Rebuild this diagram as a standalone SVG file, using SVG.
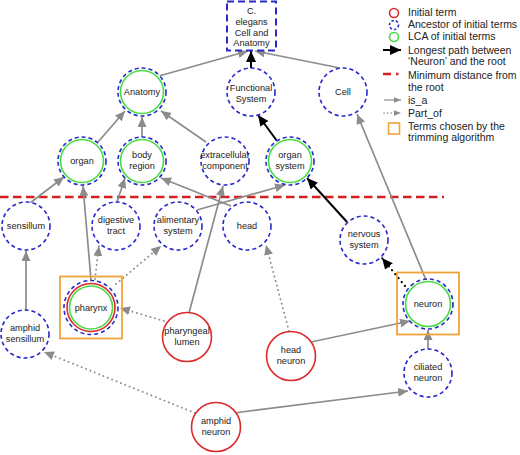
<svg xmlns="http://www.w3.org/2000/svg" width="520" height="455" viewBox="0 0 520 455">
<defs>
<marker id="ag" markerUnits="userSpaceOnUse" markerWidth="11" markerHeight="9" refX="10" refY="4.5" orient="auto"><path d="M0,0 L10,4.5 L0,9 z" fill="#8c8c8c"/></marker>
<marker id="ab" markerUnits="userSpaceOnUse" markerWidth="12" markerHeight="10" refX="11" refY="5" orient="auto"><path d="M0,0 L11,5 L0,10 z" fill="#000"/></marker>
<marker id="agl" markerUnits="userSpaceOnUse" markerWidth="8" markerHeight="6" refX="7.5" refY="3" orient="auto"><path d="M0,0 L7.5,3 L0,6 z" fill="#8c8c8c"/></marker>
</defs>
<style>
text{font-family:"Liberation Sans",Arial,sans-serif;font-size:9.2px;fill:#222;text-anchor:middle}
.lg text{font-size:10.5px;text-anchor:start}
.anc{fill:#fff;stroke:#2a2acc;stroke-width:1.6;stroke-dasharray:4 3}
.lca{fill:none;stroke:#44dd44;stroke-width:1.6}
.ini{fill:#fff;stroke:#dd2b2b;stroke-width:1.6}
.trim{fill:none;stroke:#f0a33a;stroke-width:1.8}
.isa{stroke:#8c8c8c;stroke-width:1.7;fill:none;marker-end:url(#ag)}
.part{stroke:#8c8c8c;stroke-width:1.9;fill:none;stroke-dasharray:0.1 4.6;stroke-linecap:round;marker-end:url(#ag)}
.lp{stroke:#000;stroke-width:2;fill:none;marker-end:url(#ab)}
.lpd{stroke:#000;stroke-width:2.2;fill:none;stroke-dasharray:0.1 5;stroke-linecap:round;marker-end:url(#ab)}
.min{stroke:#d42020;stroke-width:2.5;stroke-dasharray:8.5 4.5;fill:none}
</style>
<rect width="520" height="455" fill="#fff"/>
<line class="min" x1="0" y1="197" x2="444" y2="197"/>
<g id="connectors">
<line class="isa" x1="159" y1="76" x2="248" y2="51"/>
<line class="lp" x1="251" y1="68" x2="251" y2="51"/>
<line class="isa" x1="340" y1="68" x2="255" y2="51"/>
<line class="isa" x1="98" y1="142" x2="125" y2="111"/>
<line class="isa" x1="142" y1="137" x2="142" y2="117"/>
<line class="isa" x1="206" y1="142" x2="161" y2="111"/>
<line class="lp" x1="277" y1="141" x2="258" y2="115"/>
<line class="isa" x1="426" y1="280" x2="357" y2="114"/>
<line class="lp" x1="347" y1="222" x2="307" y2="178"/>
<line class="lpd" x1="405" y1="286" x2="382" y2="258"/>
<line class="isa" x1="30" y1="203" x2="64" y2="177"/>
<line class="isa" x1="91" y1="280" x2="83" y2="186"/>
<line class="isa" x1="117" y1="202" x2="125" y2="178"/>
<line class="isa" x1="231" y1="206" x2="161" y2="178"/>
<line class="isa" x1="197" y1="210" x2="285" y2="185"/>
<line class="isa" x1="189" y1="313" x2="223" y2="186"/>
<line class="isa" x1="26" y1="310" x2="26" y2="251"/>
<line class="part" x1="95" y1="279" x2="99" y2="246"/>
<line class="part" x1="116" y1="284" x2="161" y2="246"/>
<line class="part" x1="164" y1="321" x2="120" y2="308"/>
<line class="part" x1="289" y1="331" x2="266" y2="245"/>
<line class="isa" x1="311" y1="342" x2="410" y2="321"/>
<line class="isa" x1="428" y1="349" x2="428" y2="330"/>
<line class="isa" x1="234" y1="413" x2="408" y2="391"/>
<line class="part" x1="195" y1="413" x2="44" y2="352"/>
</g>
<g id="root"><rect x="227" y="1.5" width="49" height="49" fill="#fff" stroke="#2a2acc" stroke-width="2" stroke-dasharray="7 4"/>
<text x="251.5" y="14">C.</text><text x="251.5" y="25">elegans</text><text x="251.5" y="36">Cell and</text><text x="251.5" y="46">Anatomy</text></g>
<g id="anatomy"><circle class="anc" cx="142" cy="92" r="24"/><circle class="lca" cx="142" cy="92" r="21.5"/><text x="142" y="95">Anatomy</text></g>
<g id="functional-system"><circle class="anc" cx="251" cy="92" r="24"/><text x="251" y="91">Functional</text><text x="251" y="102">System</text></g>
<g id="cell"><circle class="anc" cx="343" cy="92" r="24"/><text x="343" y="95">Cell</text></g>
<g id="organ"><circle class="anc" cx="82" cy="161" r="24"/><circle class="lca" cx="82" cy="161" r="21.5"/><text x="82" y="164">organ</text></g>
<g id="body-region"><circle class="anc" cx="142" cy="161" r="24"/><circle class="lca" cx="142" cy="161" r="21.5"/><text x="142" y="157.5">body</text><text x="142" y="168.5">region</text></g>
<g id="extracellular-component"><circle class="anc" cx="225" cy="161" r="24"/><text x="225" y="157.5">extracellular</text><text x="225" y="168.5">component</text></g>
<g id="organ-system"><circle class="anc" cx="290" cy="161" r="24"/><circle class="lca" cx="290" cy="161" r="21.5"/><text x="290" y="157.5">organ</text><text x="290" y="168.5">system</text></g>
<g id="sensillum"><circle class="anc" cx="26" cy="226" r="24"/><text x="26" y="229">sensillum</text></g>
<g id="digestive-tract"><circle class="anc" cx="116" cy="226" r="24"/><text x="116" y="222.5">digestive</text><text x="116" y="233.5">tract</text></g>
<g id="alimentary-system"><circle class="anc" cx="178" cy="226" r="24"/><text x="178" y="222.5">alimentary</text><text x="178" y="233.5">system</text></g>
<g id="head"><circle class="anc" cx="247" cy="226" r="24"/><text x="247" y="229">head</text></g>
<g id="nervous-system"><circle class="anc" cx="364" cy="240" r="24"/><text x="364" y="236.5">nervous</text><text x="364" y="247.5">system</text></g>
<g id="pharynx"><rect class="trim" x="60" y="276.5" width="62" height="62"/><circle class="anc" cx="91" cy="307.5" r="27"/><circle class="ini" cx="91" cy="307.5" r="24"/><circle class="lca" cx="91" cy="307.5" r="21.5"/><text x="91" y="310.5">pharynx</text></g>
<g id="amphid-sensillum"><circle class="anc" cx="25" cy="334" r="24"/><text x="25" y="330.5">amphid</text><text x="25" y="341.5">sensillum</text></g>
<g id="pharyngeal-lumen"><circle class="ini" cx="187" cy="337" r="24.5"/><text x="187" y="333.5">pharyngeal</text><text x="187" y="344.5">lumen</text></g>
<g id="head-neuron"><circle class="ini" cx="291" cy="356" r="24.5"/><text x="291" y="352.5">head</text><text x="291" y="363.5">neuron</text></g>
<g id="neuron"><rect class="trim" x="397" y="272.5" width="62" height="62"/><circle class="anc" cx="428" cy="304" r="25"/><circle class="lca" cx="428" cy="304" r="22.5"/><text x="428" y="307">neuron</text></g>
<g id="ciliated-neuron"><circle class="anc" cx="428" cy="373" r="24"/><text x="428" y="369.5">ciliated</text><text x="428" y="380.5">neuron</text></g>
<g id="amphid-neuron"><circle class="ini" cx="216" cy="427" r="24.5"/><text x="216" y="423.5">amphid</text><text x="216" y="434.5">neuron</text></g>
<g id="legend" class="lg">
<circle cx="394" cy="13" r="4.5" fill="none" stroke="#dd2b2b" stroke-width="1.6"/>
<circle cx="394" cy="25" r="4.5" fill="none" stroke="#2a2acc" stroke-width="1.6" stroke-dasharray="2.5 2"/>
<circle cx="394" cy="37" r="4.5" fill="none" stroke="#44dd44" stroke-width="1.6"/>
<line class="lp" x1="383" y1="50" x2="401" y2="50"/>
<line x1="383" y1="74" x2="401" y2="74" stroke="#d42020" stroke-width="2.5" stroke-dasharray="8 5 2.5 10"/>
<line x1="384" y1="100" x2="401" y2="100" stroke="#8c8c8c" stroke-width="1.2" marker-end="url(#agl)"/>
<line x1="384" y1="113" x2="401" y2="113" stroke="#8c8c8c" stroke-width="1.5" stroke-dasharray="0.1 3.5" stroke-linecap="round" marker-end="url(#agl)"/>
<rect x="388.5" y="123" width="11" height="11" fill="none" stroke="#f0a33a" stroke-width="1.6"/>
<text x="408" y="16">Initial term</text>
<text x="408" y="28">Ancestor of initial terms</text>
<text x="408" y="40">LCA of initial terms</text>
<text x="408" y="54">Longest path between</text>
<text x="408" y="65">‘Neuron’ and the root</text>
<text x="408" y="79">Minimum distance from</text>
<text x="408" y="91">the root</text>
<text x="408" y="104">is_a</text>
<text x="408" y="117">Part_of</text>
<text x="408" y="130">Terms chosen by the</text>
<text x="408" y="141">trimming algorithm</text>
</g>
</svg>
